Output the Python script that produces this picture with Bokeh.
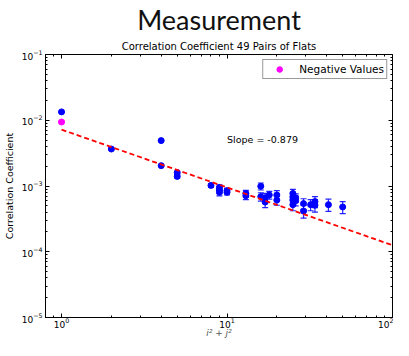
from bokeh.plotting import figure
from bokeh.models import (LogAxis, LogTicker, Title, Legend, LegendItem, Range1d,
                          ColumnDataSource, Whisker, Label, TeeHead, CustomJSTickFormatter)
from bokeh.embed import file_html
from bokeh.resources import INLINE

# ---- data ----
lag_x = [1, 2, 4, 4, 5, 5, 8, 9, 9, 9, 10, 10, 13, 13, 16, 16, 17, 17, 18, 20, 20,
         25, 25, 25, 25, 26, 26, 29, 29, 32, 34, 34, 41, 50]
corr_y = [0.0134, 0.00365, 0.0049, 0.00204, 0.0016, 0.0014, 0.00102, 0.00095, 0.00087,
          0.00080, 0.00085, 0.00080, 0.00077, 0.00071, 0.00099, 0.00069, 0.00066, 0.00057,
          0.00073, 0.00073, 0.00061, 0.00077, 0.00068, 0.00061, 0.00052, 0.00060, 0.00066,
          0.00054, 0.000415, 0.00052, 0.00051, 0.00058, 0.00052, 0.00048]
corr_err = [0.0003, 0.0001, 0.0001, 0.00006, 0.00008, 0.00008, 0.00007, 0.00009, 0.00009,
            0.00009, 0.00007, 0.00007, 0.00009, 0.00009, 0.00012, 0.0001, 0.00011, 0.0001,
            0.0001, 0.00012, 0.0001, 0.00012, 0.00011, 0.0001, 0.0001, 0.0001, 0.0001,
            0.0001, 0.00009, 0.0001, 0.00011, 0.00011, 0.00011, 0.0001]
neg_x = [1]
neg_y = [0.0094]
neg_err = [0.0003]
fit_amp = 0.0072
fit_slope = -0.879
fit_x = [1, 100]
x_range_lim = [0.8, 100]
y_range_lim = [1e-5, 1e-1]

FONT = "DejaVu Sans"

p = figure(width=393, height=340, x_axis_type="log", y_axis_type="log",
           x_range=Range1d(*x_range_lim), y_range=Range1d(*y_range_lim),
           output_backend="svg", toolbar_location=None,
           min_border_left=38, min_border_right=1, min_border_top=0, min_border_bottom=10,
           background_fill_color="white", border_fill_color="white")
p.grid.visible = False
p.outline_line_color = "black"
p.outline_line_width = 1

# titles (p.title is the outermost one)
p.title.text = "Measurement"
p.title.text_font = "Lato"
p.title.text_font_size = "27px"
p.title.text_font_style = "normal"
p.title.text_color = "#111111"
p.title.align = "center"
p.title.offset = -12
p.title.standoff = 0
p.add_layout(Title(text="Correlation Coefficient 49 Pairs of Flats", text_font=FONT,
                   text_font_size="10px", text_font_style="normal", align="center",
                   text_color="black", standoff=6), "above")

for ax in (p.xaxis[0], p.yaxis[0]):
    ax.ticker = LogTicker(num_minor_ticks=10)
    ax.major_tick_in = 4
    ax.major_tick_out = 0
    ax.minor_tick_in = 2
    ax.minor_tick_out = 0
    ax.major_label_text_font = FONT
    ax.major_label_text_font_size = "9px"
    ax.major_label_text_color = "black"
    ax.axis_line_color = "black"
    ax.axis_label_text_font = FONT
    ax.axis_label_text_font_style = "normal"

p.yaxis.axis_label = "Correlation Coefficient"
p.yaxis.axis_label_text_font_size = "9.5px"
p.yaxis.axis_label_text_color = "black"
p.yaxis.axis_label_standoff = 4
p.yaxis.major_label_standoff = 3
p.xaxis.axis_label = "i² + j²"
p.xaxis.axis_label_text_font_size = "9px"
p.xaxis.axis_label_text_font_style = "italic"
p.xaxis.axis_label_text_color = "#555555"
p.xaxis.axis_label_standoff = -3
p.xaxis.major_label_standoff = 0

blank = CustomJSTickFormatter(code="return ''")
for loc, fixed in (("right", x_range_lim[1]), ("above", y_range_lim[1])):
    ax = LogAxis(ticker=LogTicker(num_minor_ticks=10), formatter=blank,
                 fixed_location=fixed,
                 major_label_text_font_size="0px", major_label_text_alpha=0,
                 major_label_standoff=0,
                 major_tick_in=4, major_tick_out=0, minor_tick_in=2, minor_tick_out=0,
                 axis_line_color="black")
    p.add_layout(ax, loc)

# data
src = ColumnDataSource(dict(x=lag_x, y=corr_y,
                            lo=[a - b for a, b in zip(corr_y, corr_err)],
                            hi=[a + b for a, b in zip(corr_y, corr_err)]))
nsrc = ColumnDataSource(dict(x=neg_x, y=neg_y,
                             lo=[a - b for a, b in zip(neg_y, neg_err)],
                             hi=[a + b for a, b in zip(neg_y, neg_err)]))

for s, col in ((src, "#0000ff"), (nsrc, "#ff00ff")):
    w = Whisker(source=s, base="x", upper="hi", lower="lo", dimension="height",
                line_color=col, line_width=1.2, line_alpha=0.85,
                upper_head=TeeHead(size=6, line_color=col, line_width=1.2, line_alpha=0.85),
                lower_head=TeeHead(size=6, line_color=col, line_width=1.2, line_alpha=0.85))
    p.add_layout(w)

p.scatter("x", "y", source=src, size=6, color="#0000ff")
neg = p.scatter("x", "y", source=nsrc, size=6, color="#ff00ff")

fit_y = [fit_amp * xv ** fit_slope for xv in fit_x]
p.line(fit_x, fit_y, line_color="red", line_width=1.8, line_dash="5 3")

p.add_layout(Label(x=10, y=0.0051, text="Slope = -0.879", text_font=FONT,
                   text_font_size="9.5px", text_color="black", text_baseline="alphabetic"))

legend = Legend(items=[LegendItem(label="Negative Values", renderers=[neg])],
                location="top_right", label_text_font=FONT, label_text_font_size="10.5px",
                label_text_color="black",
                border_line_color="#333333", border_line_width=1.5, padding=2, margin=5,
                glyph_width=28, glyph_height=14, label_standoff=6, label_height=14,
                background_fill_alpha=1)
p.add_layout(legend)

open("out.html", "w").write(file_html(p, INLINE))
